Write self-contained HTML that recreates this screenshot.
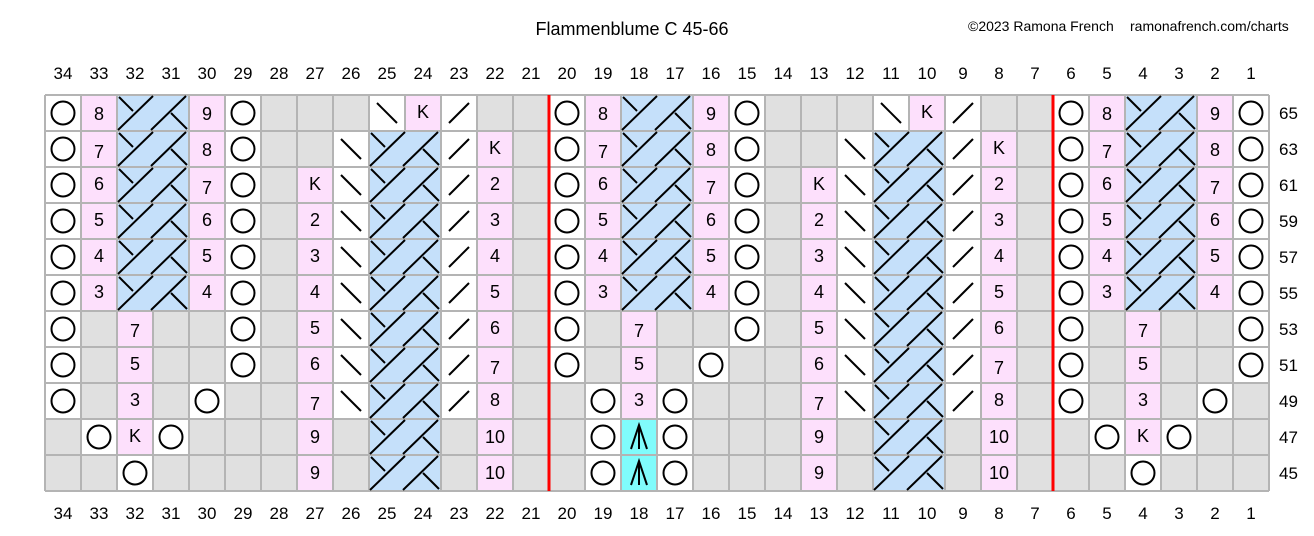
<!DOCTYPE html>
<html><head><meta charset="utf-8"><style>
html,body{margin:0;padding:0;background:#fff;}
svg{display:block;font-family:"Liberation Sans",sans-serif;}
</style></head><body>
<svg width="1314" height="536" xmlns="http://www.w3.org/2000/svg" xmlns:xlink="http://www.w3.org/1999/xlink">
<defs>
<g id="o"><rect x="1" y="1" width="34" height="34" fill="#fff"/><circle cx="18" cy="18" r="11.5" fill="none" stroke="#000" stroke-width="2"/></g>
<rect id="p" x="1" y="1" width="34" height="34" fill="#fde0fc"/>
<g id="c"><rect x="1" y="1" width="70" height="34" fill="#c5e0fa"/><g stroke="#000" stroke-width="2"><line x1="1" y1="35" x2="36" y2="1"/><line x1="34" y1="35" x2="69" y2="1"/><line x1="2" y1="2" x2="16" y2="16"/><line x1="54" y1="18" x2="70" y2="34"/></g></g>
<g id="bs"><rect x="1" y="1" width="34" height="34" fill="#fff"/><line x1="8" y1="8" x2="28" y2="28" stroke="#000" stroke-width="2"/></g>
<g id="fs"><rect x="1" y="1" width="34" height="34" fill="#fff"/><line x1="8" y1="28" x2="28" y2="8" stroke="#000" stroke-width="2"/></g>
<g id="a"><rect x="1" y="1" width="34" height="34" fill="#80fcfc"/><g stroke="#000" stroke-width="2" fill="none"><polyline points="10,30 18,6 26,30"/><line x1="18" y1="6" x2="18" y2="30"/></g></g>

<g id="L6top" font-size="18" text-anchor="middle">
<use href="#o" x="0" y="95"/><use href="#p" x="36" y="95"/><text x="54" y="120">8</text><use href="#c" x="72" y="95"/><use href="#p" x="144" y="95"/><text x="162" y="120">9</text><use href="#o" x="180" y="95"/>
<use href="#o" x="0" y="131"/><use href="#p" x="36" y="131"/><text x="54" y="158">7</text><use href="#c" x="72" y="131"/><use href="#p" x="144" y="131"/><text x="162" y="156">8</text><use href="#o" x="180" y="131"/>
<use href="#o" x="0" y="167"/><use href="#p" x="36" y="167"/><text x="54" y="190">6</text><use href="#c" x="72" y="167"/><use href="#p" x="144" y="167"/><text x="162" y="194">7</text><use href="#o" x="180" y="167"/>
<use href="#o" x="0" y="203"/><use href="#p" x="36" y="203"/><text x="54" y="226">5</text><use href="#c" x="72" y="203"/><use href="#p" x="144" y="203"/><text x="162" y="226">6</text><use href="#o" x="180" y="203"/>
<use href="#o" x="0" y="239"/><use href="#p" x="36" y="239"/><text x="54" y="262">4</text><use href="#c" x="72" y="239"/><use href="#p" x="144" y="239"/><text x="162" y="262">5</text><use href="#o" x="180" y="239"/>
<use href="#o" x="0" y="275"/><use href="#p" x="36" y="275"/><text x="54" y="298">3</text><use href="#c" x="72" y="275"/><use href="#p" x="144" y="275"/><text x="162" y="298">4</text><use href="#o" x="180" y="275"/>
<use href="#o" x="0" y="311"/><use href="#p" x="72" y="311"/><text x="90" y="337">7</text><use href="#o" x="180" y="311"/>
</g>
<g id="L6bot" font-size="18" text-anchor="middle">
<use href="#o" x="0" y="347"/><use href="#p" x="72" y="347"/><text x="90" y="370">5</text><use href="#o" x="180" y="347"/>
<use href="#o" x="0" y="383"/><use href="#p" x="72" y="383"/><text x="90" y="406">3</text><use href="#o" x="144" y="383"/>
<use href="#o" x="36" y="419"/><use href="#p" x="72" y="419"/><text x="90" y="442">K</text><use href="#o" x="108" y="419"/>
<use href="#o" x="72" y="455"/>
</g>
<g id="M6bot" font-size="18" text-anchor="middle">
<use href="#o" x="0" y="347"/><use href="#p" x="72" y="347"/><text x="90" y="370">5</text><use href="#o" x="144" y="347"/>
<use href="#o" x="36" y="383"/><use href="#p" x="72" y="383"/><text x="90" y="406">3</text><use href="#o" x="108" y="383"/>
<use href="#o" x="36" y="419"/><use href="#a" x="72" y="419"/><use href="#o" x="108" y="419"/>
<use href="#o" x="36" y="455"/><use href="#a" x="72" y="455"/><use href="#o" x="108" y="455"/>
</g>
<g id="R8" font-size="18" text-anchor="middle">
<use href="#bs" x="324" y="95"/><use href="#p" x="360" y="95"/><text x="378" y="118">K</text><use href="#fs" x="396" y="95"/>
<use href="#bs" x="288" y="131"/><use href="#c" x="324" y="131"/><use href="#fs" x="396" y="131"/><use href="#p" x="432" y="131"/><text x="450" y="154">K</text>
<use href="#p" x="252" y="167"/><text x="270" y="190">K</text><use href="#bs" x="288" y="167"/><use href="#c" x="324" y="167"/><use href="#fs" x="396" y="167"/><use href="#p" x="432" y="167"/><text x="450" y="190">2</text>
<use href="#p" x="252" y="203"/><text x="270" y="226">2</text><use href="#bs" x="288" y="203"/><use href="#c" x="324" y="203"/><use href="#fs" x="396" y="203"/><use href="#p" x="432" y="203"/><text x="450" y="226">3</text>
<use href="#p" x="252" y="239"/><text x="270" y="262">3</text><use href="#bs" x="288" y="239"/><use href="#c" x="324" y="239"/><use href="#fs" x="396" y="239"/><use href="#p" x="432" y="239"/><text x="450" y="262">4</text>
<use href="#p" x="252" y="275"/><text x="270" y="298">4</text><use href="#bs" x="288" y="275"/><use href="#c" x="324" y="275"/><use href="#fs" x="396" y="275"/><use href="#p" x="432" y="275"/><text x="450" y="298">5</text>
<use href="#p" x="252" y="311"/><text x="270" y="334">5</text><use href="#bs" x="288" y="311"/><use href="#c" x="324" y="311"/><use href="#fs" x="396" y="311"/><use href="#p" x="432" y="311"/><text x="450" y="334">6</text>
<use href="#p" x="252" y="347"/><text x="270" y="370">6</text><use href="#bs" x="288" y="347"/><use href="#c" x="324" y="347"/><use href="#fs" x="396" y="347"/><use href="#p" x="432" y="347"/><text x="450" y="374">7</text>
<use href="#p" x="252" y="383"/><text x="270" y="410">7</text><use href="#bs" x="288" y="383"/><use href="#c" x="324" y="383"/><use href="#fs" x="396" y="383"/><use href="#p" x="432" y="383"/><text x="450" y="406">8</text>
<use href="#p" x="252" y="419"/><text x="270" y="443">9</text><use href="#c" x="324" y="419"/><use href="#p" x="432" y="419"/><text x="450" y="443">10</text>
<use href="#p" x="252" y="455"/><text x="270" y="479">9</text><use href="#c" x="324" y="455"/><use href="#p" x="432" y="455"/><text x="450" y="479">10</text>
</g>
</defs>

<text x="632" y="35" font-size="18" text-anchor="middle">Flammenblume C 45-66</text>
<text x="968" y="31" font-size="14">©2023 Ramona French</text>
<text x="1130" y="31" font-size="14">ramonafrench.com/charts</text>

<rect x="45" y="95" width="1224" height="396" fill="#e0e0e0"/>
<g stroke="#b4b4b4" stroke-width="2">
<path d="M45 95V491M81 95V491M117 95V491M153 95V491M189 95V491M225 95V491M261 95V491M297 95V491M333 95V491M369 95V491M405 95V491M441 95V491M477 95V491M513 95V491M549 95V491M585 95V491M621 95V491M657 95V491M693 95V491M729 95V491M765 95V491M801 95V491M837 95V491M873 95V491M909 95V491M945 95V491M981 95V491M1017 95V491M1053 95V491M1089 95V491M1125 95V491M1161 95V491M1197 95V491M1233 95V491M1269 95V491"/>
<path d="M45 95H1269M45 131H1269M45 167H1269M45 203H1269M45 239H1269M45 275H1269M45 311H1269M45 347H1269M45 383H1269M45 419H1269M45 455H1269M45 491H1269"/>
</g>
<g transform="translate(45,0)">
<use href="#L6top"/><use href="#L6bot"/><use href="#R8"/>
<g transform="translate(504,0)"><use href="#L6top"/><use href="#M6bot"/><use href="#R8"/></g>
<g transform="translate(1008,0)"><use href="#L6top"/><use href="#L6bot"/></g>
</g>
<g stroke="#ff0000" stroke-width="3"><line x1="549" y1="95" x2="549" y2="491"/><line x1="1053" y1="95" x2="1053" y2="491"/></g>

<g font-size="17" text-anchor="middle">
<text x="63" y="79">34</text><text x="99" y="79">33</text><text x="135" y="79">32</text><text x="171" y="79">31</text><text x="207" y="79">30</text><text x="243" y="79">29</text><text x="279" y="79">28</text><text x="315" y="79">27</text><text x="351" y="79">26</text><text x="387" y="79">25</text><text x="423" y="79">24</text><text x="459" y="79">23</text><text x="495" y="79">22</text><text x="531" y="79">21</text><text x="567" y="79">20</text><text x="603" y="79">19</text><text x="639" y="79">18</text><text x="675" y="79">17</text><text x="711" y="79">16</text><text x="747" y="79">15</text><text x="783" y="79">14</text><text x="819" y="79">13</text><text x="855" y="79">12</text><text x="891" y="79">11</text><text x="927" y="79">10</text><text x="963" y="79">9</text><text x="999" y="79">8</text><text x="1035" y="79">7</text><text x="1071" y="79">6</text><text x="1107" y="79">5</text><text x="1143" y="79">4</text><text x="1179" y="79">3</text><text x="1215" y="79">2</text><text x="1251" y="79">1</text>
<text x="63" y="519">34</text><text x="99" y="519">33</text><text x="135" y="519">32</text><text x="171" y="519">31</text><text x="207" y="519">30</text><text x="243" y="519">29</text><text x="279" y="519">28</text><text x="315" y="519">27</text><text x="351" y="519">26</text><text x="387" y="519">25</text><text x="423" y="519">24</text><text x="459" y="519">23</text><text x="495" y="519">22</text><text x="531" y="519">21</text><text x="567" y="519">20</text><text x="603" y="519">19</text><text x="639" y="519">18</text><text x="675" y="519">17</text><text x="711" y="519">16</text><text x="747" y="519">15</text><text x="783" y="519">14</text><text x="819" y="519">13</text><text x="855" y="519">12</text><text x="891" y="519">11</text><text x="927" y="519">10</text><text x="963" y="519">9</text><text x="999" y="519">8</text><text x="1035" y="519">7</text><text x="1071" y="519">6</text><text x="1107" y="519">5</text><text x="1143" y="519">4</text><text x="1179" y="519">3</text><text x="1215" y="519">2</text><text x="1251" y="519">1</text>
</g>
<g font-size="17">
<text x="1279" y="119">65</text><text x="1279" y="155">63</text><text x="1279" y="191">61</text><text x="1279" y="227">59</text><text x="1279" y="263">57</text><text x="1279" y="299">55</text><text x="1279" y="335">53</text><text x="1279" y="371">51</text><text x="1279" y="407">49</text><text x="1279" y="443">47</text><text x="1279" y="479">45</text>
</g>
</svg>
</body></html>
